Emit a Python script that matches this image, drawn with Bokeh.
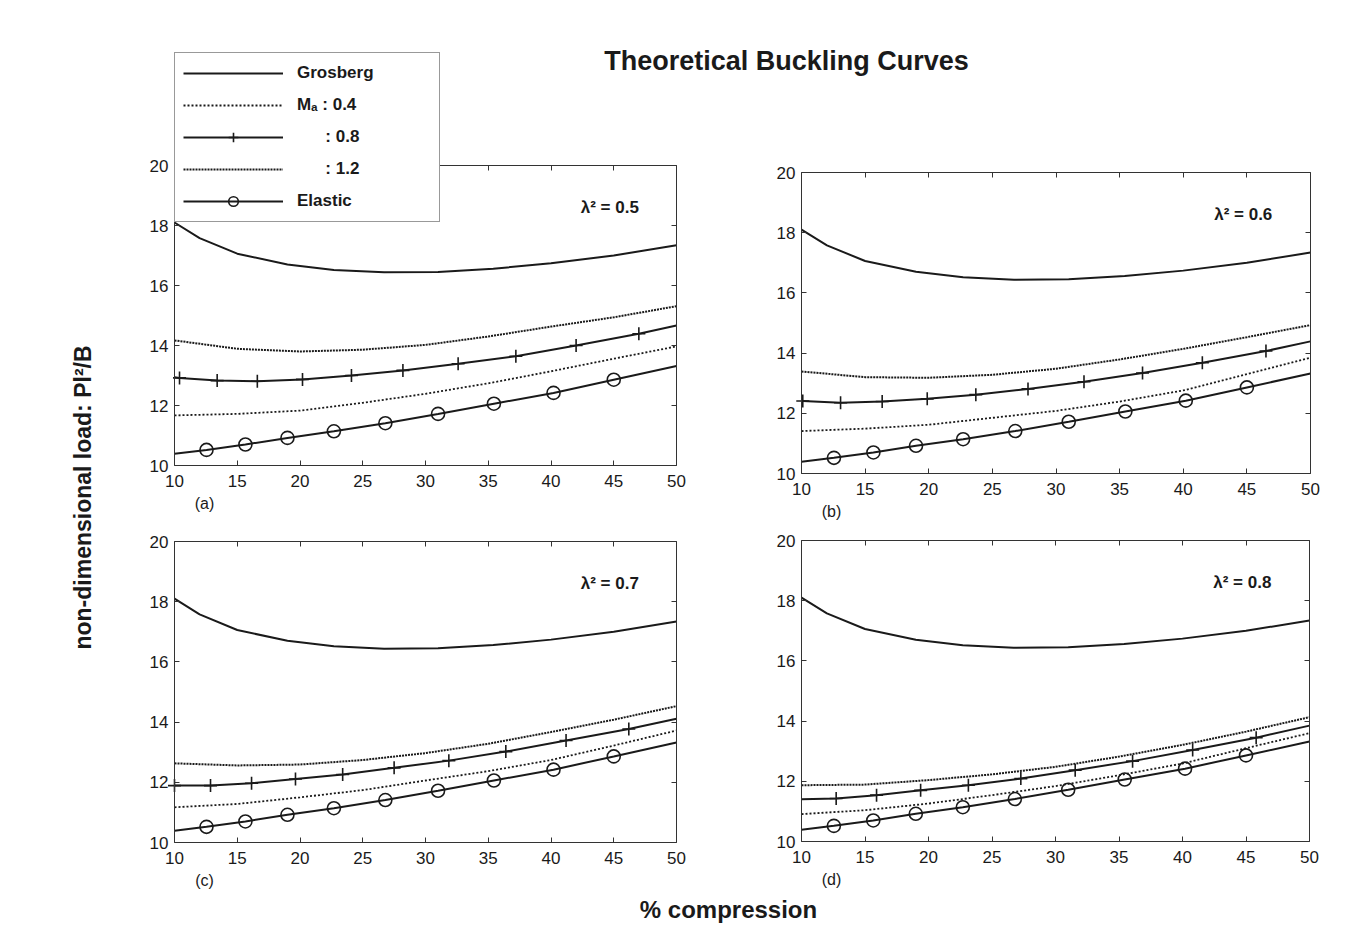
import math
from bokeh.plotting import figure
from bokeh.models import (Range1d, FixedTicker, LinearAxis, Label, Legend,
                          LegendItem)
from bokeh.embed import file_html
from bokeh.resources import INLINE

# ---------------- data ----------------
x_ticks = [10, 15, 20, 25, 30, 35, 40, 45, 50]
y_ticks = [10, 12, 14, 16, 18, 20]
pct = [10, 15, 20, 25, 30, 35, 40, 45, 50]

grosberg_x = [10, 12, 15, 19, 22.7, 26.7, 31, 35.4, 40, 45, 50]
grosberg_y = [18.1, 17.58, 17.06, 16.7, 16.52, 16.44, 16.45, 16.56, 16.74, 17.0, 17.34]

elastic_x = [10, 12.55, 15.65, 19.0, 22.7, 26.8, 31.0, 35.45, 40.2, 45.0, 50]
elastic_y = [10.39, 10.52, 10.70, 10.92, 11.14, 11.41, 11.72, 12.06, 12.42, 12.86, 13.32]
elastic_mx = [12.55, 15.65, 19.0, 22.7, 26.8, 31.0, 35.45, 40.2, 45.0]
elastic_my = [10.52, 10.70, 10.92, 11.14, 11.41, 11.72, 12.06, 12.42, 12.86]

ma04_a = [11.67, 11.72, 11.83, 12.09, 12.39, 12.74, 13.14, 13.56, 13.97]
ma04_b = [11.41, 11.49, 11.62, 11.85, 12.08, 12.39, 12.76, 13.30, 13.85]
ma04_c = [11.17, 11.28, 11.50, 11.74, 12.06, 12.37, 12.74, 13.22, 13.72]
ma04_d = [10.91, 11.04, 11.26, 11.54, 11.84, 12.20, 12.59, 13.10, 13.60]

ma12_a = [14.17, 13.89, 13.80, 13.86, 14.02, 14.30, 14.63, 14.94, 15.31]
ma12_b = [13.39, 13.20, 13.18, 13.28, 13.48, 13.79, 14.14, 14.53, 14.93]
ma12_c = [12.63, 12.56, 12.59, 12.74, 12.97, 13.28, 13.67, 14.08, 14.53]
ma12_d = [11.87, 11.89, 12.04, 12.23, 12.48, 12.82, 13.21, 13.65, 14.13]

ma08_a_x = [10, 10.4, 13.4, 16.6, 20.2, 24.1, 28.2, 32.6, 37.2, 42.0, 47.0, 50]
ma08_a_y = [12.94, 12.92, 12.83, 12.81, 12.87, 13.0, 13.17, 13.39, 13.64, 14.0, 14.39, 14.67]
ma08_a_mx = [10.4, 13.4, 16.6, 20.2, 24.1, 28.2, 32.6, 37.2, 42.0, 47.0]
ma08_a_my = [12.92, 12.83, 12.81, 12.87, 13.0, 13.17, 13.39, 13.64, 14.0, 14.39]

ma08_b_x = [10, 10.1, 13.07, 16.34, 19.88, 23.7, 27.8, 32.2, 36.8, 41.5, 46.5, 50]
ma08_b_y = [12.41, 12.41, 12.35, 12.39, 12.48, 12.62, 12.81, 13.05, 13.34, 13.68, 14.07, 14.39]
ma08_b_mx = [10.1, 13.07, 16.34, 19.88, 23.7, 27.8, 32.2, 36.8, 41.5, 46.5]
ma08_b_my = [12.41, 12.35, 12.39, 12.48, 12.62, 12.81, 13.05, 13.34, 13.68, 14.07]

ma08_c_x = [10, 12.87, 16.14, 19.64, 23.4, 27.5, 31.86, 36.4, 41.2, 46.2, 50]
ma08_c_y = [11.89, 11.89, 11.97, 12.11, 12.26, 12.48, 12.72, 13.02, 13.39, 13.77, 14.11]
ma08_c_mx = [10, 12.87, 16.14, 19.64, 23.4, 27.5, 31.86, 36.4, 41.2, 46.2]
ma08_c_my = [11.89, 11.89, 11.97, 12.11, 12.26, 12.48, 12.72, 13.02, 13.39, 13.77]

ma08_d_x = [10, 12.73, 15.91, 19.38, 23.14, 27.27, 31.55, 36.07, 40.8, 45.8, 50]
ma08_d_y = [11.40, 11.43, 11.54, 11.70, 11.87, 12.09, 12.37, 12.67, 13.04, 13.45, 13.85]
ma08_d_mx = [12.73, 15.91, 19.38, 23.14, 27.27, 31.55, 36.07, 40.8, 45.8]
ma08_d_my = [11.43, 11.54, 11.70, 11.87, 12.09, 12.37, 12.67, 13.04, 13.45]

lambda_labels = ["λ² = 0.5", "λ² = 0.6", "λ² = 0.7", "λ² = 0.8"]
panel_tags = ["(a)", "(b)", "(c)", "(d)"]

# ---------------- styling / layout ----------------
W, H = 1334, 930
FONT = "Liberation Sans"
INK = "#1a1a1a"
EDGE = "#333333"
LW = 2
X0, X1, Y0, Y1 = 10, 50, 10, 20

p = figure(width=W, height=H, x_range=Range1d(0, W), y_range=Range1d(H, 0),
           x_axis_type=None, y_axis_type=None, min_border=0,
           toolbar_location=None, output_backend="svg",
           outline_line_color=None, background_fill_color="white",
           border_fill_color="white")
p.grid.visible = False


def txt(x, y, s, size, bold=True, angle=0.0):
    p.add_layout(Label(x=x, y=y, text=s, text_font=FONT, text_font_size=size,
                       text_font_style="bold" if bold else "normal",
                       text_color=INK, text_align="center",
                       text_baseline="middle", angle=angle))


txt(786, 60, "Theoretical Buckling Curves", "27px")
txt(82, 497, "non-dimensional load: Pl²/B", "23px", angle=math.pi / 2)
txt(728, 909, "% compression", "24px")

frames = [  # left, top, frame width, frame height (px) of each panel
    (174, 165, 502, 300),
    (801, 172, 509, 301),
    (174, 541, 502, 301),
    (801, 540, 508, 301),
]
ma04 = [ma04_a, ma04_b, ma04_c, ma04_d]
ma12 = [ma12_a, ma12_b, ma12_c, ma12_d]
ma08 = [(ma08_a_x, ma08_a_y, ma08_a_mx, ma08_a_my),
        (ma08_b_x, ma08_b_y, ma08_b_mx, ma08_b_my),
        (ma08_c_x, ma08_c_y, ma08_c_mx, ma08_c_my),
        (ma08_d_x, ma08_d_y, ma08_d_mx, ma08_d_my)]


def axis(name, ticks, loc, bounds, labels=True, standoff=6):
    ax = LinearAxis(x_range_name=name, y_range_name=name, fixed_location=loc,
                    bounds=bounds, ticker=FixedTicker(ticks=ticks),
                    major_tick_in=5, major_tick_out=0,
                    minor_tick_line_color=None, axis_line_color=EDGE,
                    axis_line_width=1, major_tick_line_color=EDGE,
                    major_label_standoff=standoff,
                    major_label_text_font=FONT, major_label_text_font_size="17px",
                    major_label_text_color=INK if labels else None)
    return ax


legend_renderers = None
for i, (L, T, FW, FH) in enumerate(frames):
    name = "p%d" % i
    sx = (X1 - X0) / FW
    sy = (Y1 - Y0) / FH
    p.extra_x_ranges[name] = Range1d(X0 - L * sx, X1 + (W - L - FW) * sx)
    p.extra_y_ranges[name] = Range1d(Y0 - (H - T - FH) * sy, Y1 + T * sy)

    p.add_layout(axis(name, y_ticks, X0, (Y0, Y1), True, 6), "left")
    p.add_layout(axis(name, x_ticks, Y0, (X0, X1), True, 9), "below")
    p.add_layout(axis(name, x_ticks, Y1, (X0, X1), False), "above")
    p.add_layout(axis(name, y_ticks, X1, (Y0, Y1), False), "right")

    kw = dict(x_range_name=name, y_range_name=name)
    g = p.line(grosberg_x, grosberg_y, line_color=INK, line_width=LW, **kw)
    l04 = p.line(pct, ma04[i], line_color=INK, line_width=1.8, line_dash="2 2", **kw)
    lx, ly, mx, my = ma08[i]
    l08 = p.line(lx, ly, line_color=INK, line_width=LW, **kw)
    s08 = p.scatter(mx, my, marker="cross", size=13, line_color=INK,
                    line_width=1.6, **kw)
    l12 = p.line(pct, ma12[i], line_color=INK, line_width=2, line_dash="2 1", **kw)
    le = p.line(elastic_x, elastic_y, line_color=INK, line_width=LW, **kw)
    se = p.scatter(elastic_mx, elastic_my, marker="circle", size=13,
                   line_color=INK, fill_color=None, line_width=1.6, **kw)

    p.add_layout(Label(x=47, y=18.6, text=lambda_labels[i], text_font=FONT,
                       text_font_size="17px", text_font_style="bold",
                       text_color=INK, text_align="right", text_baseline="middle",
                       **kw))
    txt(L + 30, T + FH + 38, panel_tags[i], "16px", bold=False)

    if i == 0:
        legend_renderers = (g, l04, l08, s08, l12, le, se)

g, l04, l08, s08, l12, le, se = legend_renderers
nb = "\u00a0" * 6
legend = Legend(items=[
    LegendItem(label="Grosberg", renderers=[g]),
    LegendItem(label="Mₐ : 0.4", renderers=[l04]),
    LegendItem(label=nb + ": 0.8", renderers=[l08, s08]),
    LegendItem(label=nb + ": 1.2", renderers=[l12]),
    LegendItem(label="Elastic", renderers=[le, se]),
], location=(174, H - 222), orientation="vertical", margin=0, padding=8,
    spacing=8, glyph_width=100, glyph_height=24, label_height=24,
    label_standoff=14, label_width=134,
    label_text_font=FONT, label_text_font_size="17px",
    label_text_font_style="bold", label_text_color=INK,
    border_line_color=EDGE, border_line_width=1,
    background_fill_color="white", background_fill_alpha=1.0)
p.add_layout(legend)

with open("out.html", "w") as f:
    f.write(file_html(p, INLINE))
